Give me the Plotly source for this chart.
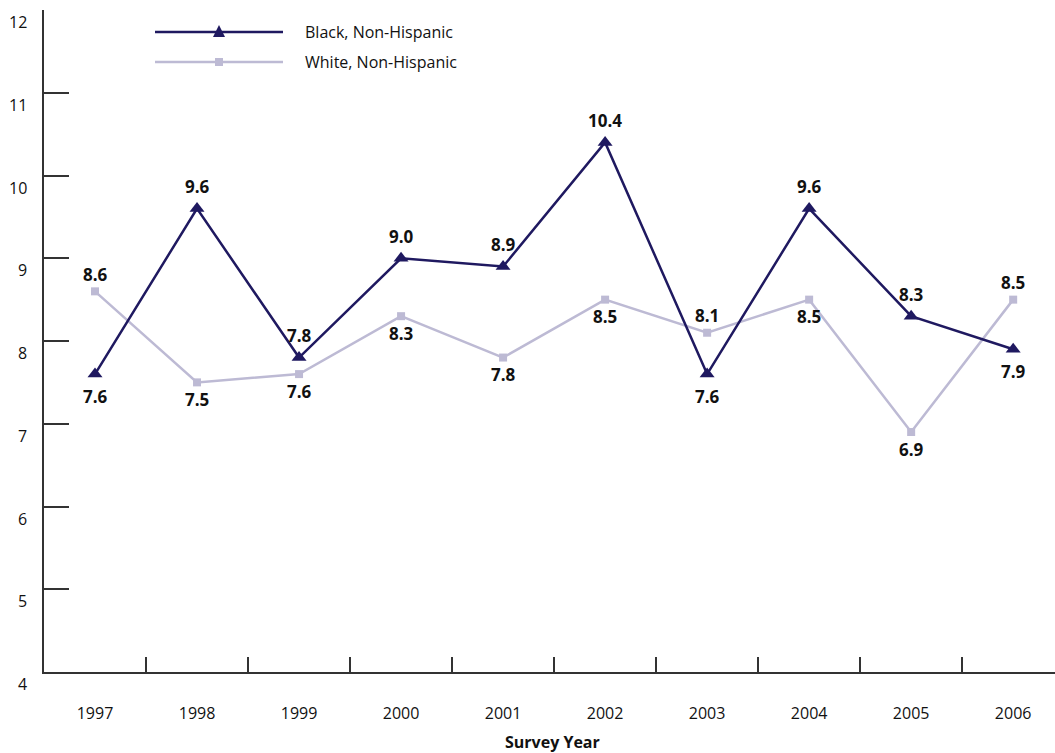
import plotly.graph_objects as go

# Survey data
years = ["1997", "1998", "1999", "2000", "2001", "2002", "2003", "2004", "2005", "2006"]
black_nh = [7.6, 9.6, 7.8, 9.0, 8.9, 10.4, 7.6, 9.6, 8.3, 7.9]
white_nh = [8.6, 7.5, 7.6, 8.3, 7.8, 8.5, 8.1, 8.5, 6.9, 8.5]
# label placement: +1 above the point, -1 below
black_pos = [-1, 1, 1, 1, 1, 1, -1, 1, 1, -1]
white_pos = [1, -1, -1, -1, -1, -1, 1, -1, -1, 1]
y_ticks = [4, 5, 6, 7, 8, 9, 10, 11, 12]

BLACK_COLOR = "#1f1960"
WHITE_COLOR = "#bdbad4"
AXIS_COLOR = "#333333"
FONT = "Open Sans"

W, H = 1055, 753
ML, MR, MT, MB = 44, 0, 10, 81
PW, PH = W - ML - MR, H - MT - MB


def px_x(px):
    return (px - ML) / PW


def px_y(py):
    return (H - MB - py) / PH


fig = go.Figure()
fig.add_trace(go.Scatter(
    x=years, y=white_nh, mode="lines+markers", name="White, Non-Hispanic",
    line=dict(color=WHITE_COLOR, width=2.5),
    marker=dict(symbol="square", size=8, color=WHITE_COLOR),
    showlegend=False, cliponaxis=False,
))
fig.add_trace(go.Scatter(
    x=years, y=black_nh, mode="lines+markers", name="Black, Non-Hispanic",
    line=dict(color=BLACK_COLOR, width=2.5),
    marker=dict(symbol="triangle-up", size=13, color=BLACK_COLOR),
    showlegend=False, cliponaxis=False,
))

annotations = []
for series, pos, gap in ((black_nh, black_pos, 22), (white_nh, white_pos, 17)):
    for i, (v, p) in enumerate(zip(series, pos)):
        # category axis: annotation x given as the category index
        annotations.append(dict(
            x=i, y=v, xref="x", yref="y", text=f"<b>{v:.1f}</b>",
            showarrow=False, yshift=gap * p, xanchor="center", yanchor="middle",
            font=dict(family=FONT, size=17, color="#111111"),
        ))

# y tick labels sit slightly below their tick marks
for t in y_ticks:
    annotations.append(dict(
        x=0, y=t, xref="paper", yref="y", text=str(t), showarrow=False,
        xanchor="right", yanchor="middle", xshift=-15, yshift=-12,
        font=dict(family=FONT, size=16, color="#111111"),
    ))

annotations.append(dict(
    x=px_x(552), y=px_y(742), xref="paper", yref="paper",
    text="<b>Survey Year</b>", showarrow=False, xanchor="center", yanchor="middle",
    font=dict(family=FONT, size=16, color="#111111"),
))

# legend drawn by hand
shapes = []
legend_items = [("Black, Non-Hispanic", BLACK_COLOR, 32, "tri"),
                ("White, Non-Hispanic", WHITE_COLOR, 62, "sq")]
for label, color, ly, kind in legend_items:
    shapes.append(dict(type="line", xref="paper", yref="paper",
                       x0=px_x(155), x1=px_x(283), y0=px_y(ly), y1=px_y(ly),
                       line=dict(color=color, width=2.5)))
    cx = 219
    if kind == "tri":
        path = (f"M {px_x(cx-6)} {px_y(ly+5)} L {px_x(cx+6)} {px_y(ly+5)} "
                f"L {px_x(cx)} {px_y(ly-7)} Z")
        shapes.append(dict(type="path", xref="paper", yref="paper", path=path,
                           fillcolor=color, line=dict(color=color, width=0)))
    else:
        shapes.append(dict(type="rect", xref="paper", yref="paper",
                           x0=px_x(cx-4), x1=px_x(cx+4), y0=px_y(ly+4), y1=px_y(ly-4),
                           fillcolor=color, line=dict(color=color, width=0)))
    annotations.append(dict(
        x=px_x(303), y=px_y(ly), xref="paper", yref="paper", text=label,
        showarrow=False, xanchor="left", yanchor="middle",
        font=dict(family=FONT, size=16, color="#111111"),
    ))

fig.update_layout(
    width=W, height=H,
    margin=dict(l=ML, r=MR, t=MT, b=MB),
    paper_bgcolor="white", plot_bgcolor="white",
    font=dict(family=FONT, size=16, color="#111111"),
    annotations=annotations, shapes=shapes,
    showlegend=False,
)
fig.update_xaxes(
    type="category", range=[-0.5, 9.41],
    showline=True, linecolor=AXIS_COLOR, linewidth=2,
    ticks="inside", ticklen=15, tickwidth=1.5, tickcolor=AXIS_COLOR,
    tickson="boundaries", ticklabelstandoff=26,
    tickfont=dict(family=FONT, size=16, color="#111111"),
    showgrid=False, zeroline=False,
)
fig.update_yaxes(
    range=[4, 12], tickvals=y_ticks, showticklabels=False,
    showline=True, linecolor=AXIS_COLOR, linewidth=2,
    ticks="inside", ticklen=25, tickwidth=1.5, tickcolor=AXIS_COLOR,
    showgrid=False, zeroline=False,
)

fig.write_html("out.html")
